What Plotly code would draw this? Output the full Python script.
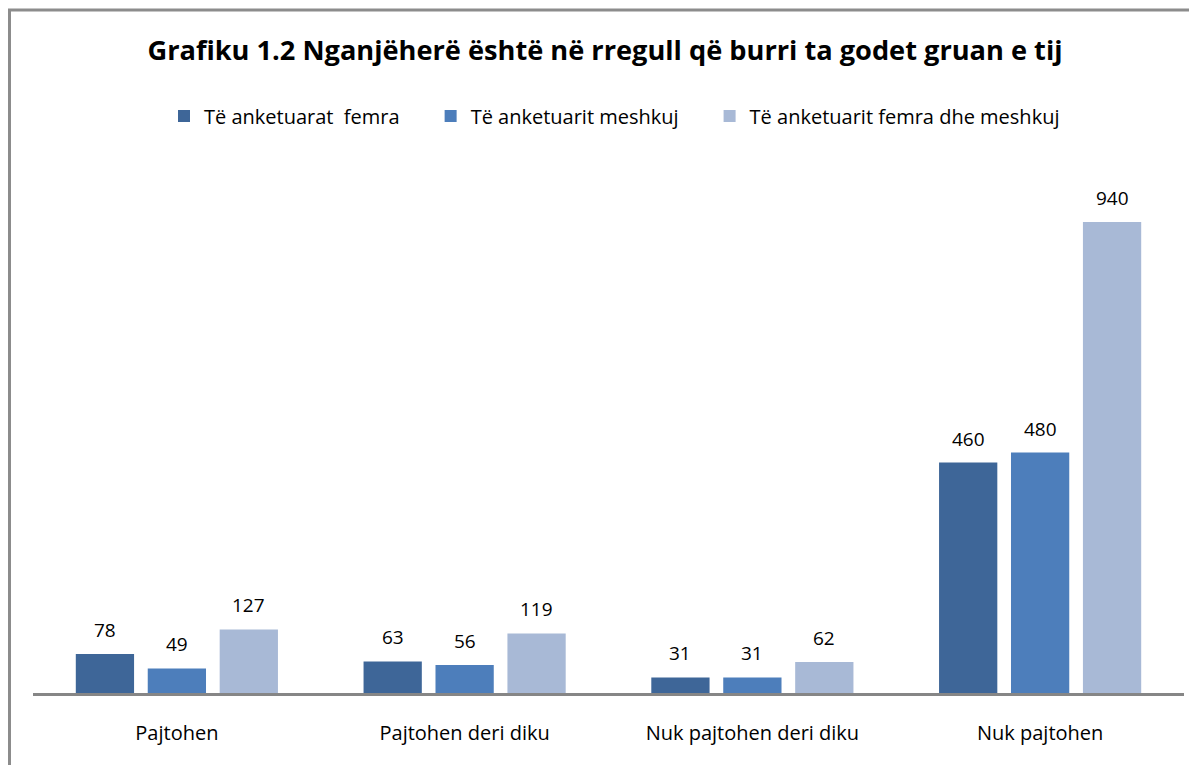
import plotly.graph_objects as go

categories = ["Pajtohen", "Pajtohen deri diku", "Nuk pajtohen deri diku", "Nuk pajtohen"]
series_names = ["Të anketuarat  femra", "Të anketuarit meshkuj", "Të anketuarit femra dhe meshkuj"]
femra = [78, 63, 31, 460]
meshkuj = [49, 56, 31, 480]
total = [127, 119, 62, 940]
colors = ["#3E6698", "#4D7EBB", "#A8B9D6"]

title_text = "Grafiku 1.2 Nganjëherë është në rregull që burri ta godet gruan e tij"

# page has an 8px body margin, so layout is offset
W, H = 1189, 757
ml, mr, mt, mb = 25, 13, 152, 72
FONT = "Open Sans"
legend_pad = [5, 5, 0]

fig = go.Figure()
all_series = [femra, meshkuj, total]
for name, vals, col, pad in zip(series_names, all_series, colors, legend_pad):
    fig.add_trace(go.Bar(x=categories, y=vals, name=name + "\u00a0" * pad,
                         marker_color=col, marker_line_width=0))

bargap = 0.25
plot_w = W - ml - mr
plot_h = H - mt - mb
slot = plot_w / len(categories) * (1 - bargap) / len(all_series)
for i, vals in enumerate(all_series):
    shift = (i - 1) * slot
    for c, v in zip(categories, vals):
        fig.add_annotation(x=c, y=v, text=str(v), showarrow=False, xshift=shift,
                           yshift=24, font=dict(family=FONT, size=19, color="#000000"))

# outer chart border (top & left visible)
fig.add_shape(type="rect", xref="paper", yref="paper",
              x0=(1.5 - ml) / plot_w, x1=1.5,
              y0=-0.6, y1=(H - mb - 2) / plot_h,
              line=dict(color="#8C8C8C", width=3), fillcolor="rgba(0,0,0,0)", layer="below")

fig.update_layout(
    width=W, height=H,
    margin=dict(l=ml, r=mr, t=mt, b=mb),
    paper_bgcolor="white", plot_bgcolor="white",
    barmode="group", bargap=bargap, bargroupgap=0.19,
    title=dict(text="<b>" + title_text + "</b>", x=597 / W, xanchor="center",
               y=1 - 42 / H, yanchor="middle", yref="container",
               font=dict(family=FONT, size=27.2, color="#000000")),
    legend=dict(orientation="h", x=156 / W, xanchor="left", xref="container",
                y=1 - 108 / H, yanchor="middle", yref="container",
                font=dict(family=FONT, size=20, color="#000000"),
                itemwidth=30, traceorder="normal"),
    xaxis=dict(showline=True, linecolor="#868686", linewidth=3, ticks="",
               tickfont=dict(family=FONT, size=20, color="#000000"),
               ticklabelstandoff=20, showgrid=False, zeroline=False),
    yaxis=dict(visible=False, range=[0, 1064], showgrid=False, zeroline=False),
    showlegend=True,
)

fig.write_html("out.html")
